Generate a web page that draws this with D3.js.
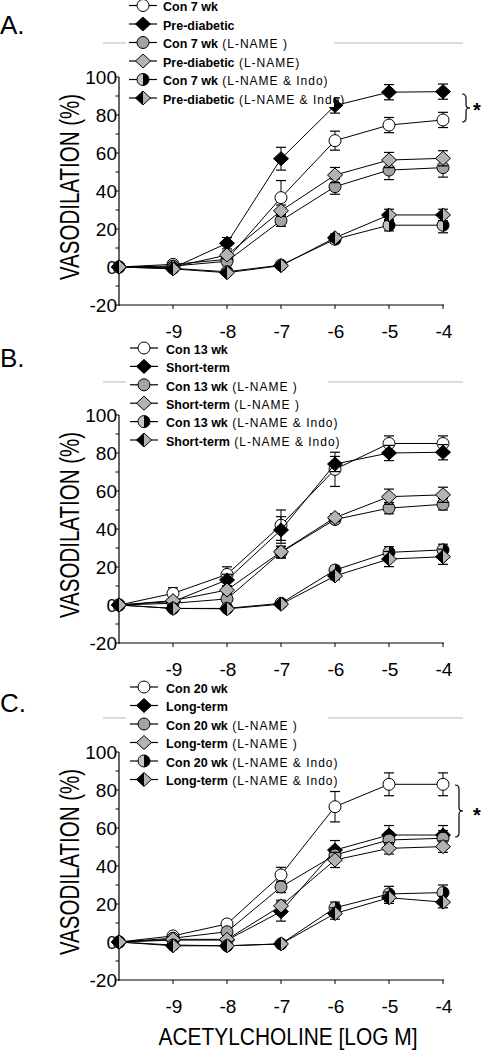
<!DOCTYPE html>
<html>
<head>
<meta charset="utf-8">
<script src="https://cdn.jsdelivr.net/npm/d3@7"></script>
<style>
  html, body { margin: 0; padding: 0; background: #fff; }
  svg { display: block; }
  text { font-family: Arial, "Liberation Sans", sans-serif; fill: #000; }
</style>
</head>
<body>
<svg id="chart" width="484" height="1050"></svg>
<script>
// ---------------- DATA ----------------
const doses = [-10, -9, -8, -7, -6, -5, -4];
const xTickValues = [-9, -8, -7, -6, -5, -4];
const yTickLabels = [-20, 0, 20, 40, 60, 80, 100];
const yMinorTicks = [-10, 10, 30, 50, 70, 90];
const xAxisTitle = "ACETYLCHOLINE [LOG M]";
const yAxisTitle = "VASODILATION (%)";

// Panel A
const aNames = ["Con 7 wk", "Pre-diabetic", "Con 7 wk", "Pre-diabetic", "Con 7 wk", "Pre-diabetic"];
const aSuffix = ["", "", " (L-NAME )", " (L-NAME)", " (L-NAME & Indo)", " (L-NAME & Indo)"];
const aCon      = [0, 1.4, 4, 36.5, 66.5, 74.7, 77.4];
const aConErr   = [0, 1, 2, 9, 5, 4, 4];
const aDia      = [0, -0.5, 12.5, 57, 85, 92, 92.3];
const aDiaErr   = [0, 1, 3, 6, 4, 4, 4];
const aConL     = [0, 0.5, 3, 24.4, 42.3, 51, 52.3];
const aConLErr  = [0, 1, 2, 3, 4, 5, 5];
const aDiaL     = [0, 0, 6.3, 29.6, 48.4, 56.3, 57.2];
const aDiaLErr  = [0, 1, 2, 3, 4, 4, 4];
const aConLI    = [0, -0.7, -2.5, 1, 14.6, 22, 22];
const aConLIErr = [0, 1, 1, 1, 2, 3, 4];
const aDiaLI    = [0, -1, -3, 0.7, 15.4, 27.4, 27.4];
const aDiaLIErr = [0, 1, 1, 1, 2, 3, 3];

// Panel B
const bNames = ["Con 13 wk", "Short-term", "Con 13 wk", "Short-term", "Con 13 wk", "Short-term"];
const bSuffix = ["", "", " (L-NAME )", " (L-NAME )", " (L-NAME & Indo)", " (L-NAME & Indo)"];
const bCon      = [0, 6.1, 16.1, 42, 71.4, 85, 85];
const bConErr   = [0, 3, 4, 8, 9, 4, 4];
const bShort    = [0, 1.8, 13.2, 39.5, 74.2, 80, 80.4];
const bShortErr = [0, 2, 3, 7, 4, 4, 4];
const bConL     = [0, 0.9, 3.2, 27.7, 45, 51, 53];
const bConLErr  = [0, 1, 2, 3, 2, 3, 3];
const bShortL   = [0, 2.3, 7.9, 28, 46, 57, 58];
const bShortLErr= [0, 1, 2, 3, 2, 4, 4];
const bConLI    = [0, -1.8, -1.8, 0.9, 18.4, 27.7, 29];
const bConLIErr = [0, 1, 1, 1, 2, 3, 3];
const bShortLI  = [0, -1.8, -2, 0.4, 15.3, 24.2, 25.4];
const bShortLIErr=[0, 1, 1, 1, 2, 4, 4];

// Panel C
const cNames = ["Con 20 wk", "Long-term", "Con 20 wk", "Long-term", "Con 20 wk", "Long-term"];
const cSuffix = ["", "", " (L-NAME )", " (L-NAME )", " (L-NAME & Indo)", " (L-NAME & Indo)"];
const cCon      = [0, 3.2, 9.5, 35.3, 71.2, 83, 83];
const cConErr   = [0, 1, 2, 4, 8, 6, 6];
const cLong     = [0, 1, 1, 16, 48.4, 56.3, 56.3];
const cLongErr  = [0, 1, 1, 5, 5, 5, 5];
const cConL     = [0, 2, 5.4, 29, 45.8, 53.7, 54.6];
const cConLErr  = [0, 1, 2, 3, 3, 4, 4];
const cLongL    = [0, 1.4, 1.4, 19, 43.2, 49.3, 50.2];
const cLongLErr = [0, 1, 1, 3, 4, 3, 3];
const cConLI    = [0, -1.6, -2, -1, 18, 25.3, 26];
const cConLIErr = [0, 1, 1, 1, 3, 4, 4];
const cLongLI   = [0, -2, -2, -1, 15, 23.3, 21];
const cLongLIErr= [0, 1, 1, 1, 3, 3, 3];

// ---------------- LAYOUT ----------------
const markerTypes = ["circleWhite", "diamondBlack", "circleGray", "diamondGray", "circleHalf", "diamondHalf"];

const panels = [
  { label: "A.", labelY: 34, top: 77, legendY: 5.5, legendStep: 18.5, markX: 143, textX: 163, grayY: 43, bgRight: 334,
    names: aNames, suffix: aSuffix,
    values: [aCon, aDia, aConL, aDiaL, aConLI, aDiaLI],
    errors: [aConErr, aDiaErr, aConLErr, aDiaLErr, aConLIErr, aDiaLIErr],
    bracket: { x: 462, y1: 94, y2: 122, starY: 117 } },
  { label: "B.", labelY: 367, top: 415, legendY: 348, legendStep: 18.4, markX: 144, textX: 166, grayY: 382, bgRight: 328,
    names: bNames, suffix: bSuffix,
    values: [bCon, bShort, bConL, bShortL, bConLI, bShortLI],
    errors: [bConErr, bShortErr, bConLErr, bShortLErr, bConLIErr, bShortLIErr],
    bracket: null },
  { label: "C.", labelY: 712, top: 752, legendY: 687, legendStep: 18.5, markX: 144, textX: 166, grayY: 718, bgRight: 328,
    names: cNames, suffix: cSuffix,
    values: [cCon, cLong, cConL, cLongL, cConLI, cLongLI],
    errors: [cConErr, cLongErr, cConLErr, cLongLErr, cConLIErr, cLongLIErr],
    bracket: { x: 455, y1: 785, y2: 837, starY: 822 } }
];

const svg = d3.select("#chart");
const x = d3.scaleLinear().domain([-10, -4]).range([119, 443]);
const plotH = 228;

const GRAY_C = "#a3a3a3", GRAY_D = "#b3b3b3", GRAY_HALF = "#c4c4c4";

function drawMarker(g, type, cx, cy) {
  const r = 6, w = 7.5, h = 7;
  const diamond = `M${cx},${cy - h}L${cx + w},${cy}L${cx},${cy + h}L${cx - w},${cy}Z`;
  if (type === "circleWhite" || type === "circleGray") {
    g.append("circle").attr("cx", cx).attr("cy", cy).attr("r", r)
      .attr("fill", type === "circleWhite" ? "#fff" : GRAY_C)
      .attr("stroke", "#000").attr("stroke-width", 1);
  } else if (type === "diamondBlack" || type === "diamondGray") {
    g.append("path").attr("d", diamond)
      .attr("fill", type === "diamondBlack" ? "#000" : GRAY_D)
      .attr("stroke", "#000").attr("stroke-width", 1);
  } else if (type === "circleHalf") {
    g.append("circle").attr("cx", cx).attr("cy", cy).attr("r", r).attr("fill", GRAY_HALF);
    g.append("path").attr("d", `M${cx},${cy - r}A${r},${r} 0 0 1 ${cx},${cy + r}Z`).attr("fill", "#000");
    g.append("circle").attr("cx", cx).attr("cy", cy).attr("r", r).attr("fill", "none")
      .attr("stroke", "#000").attr("stroke-width", 1);
  } else if (type === "diamondHalf") {
    g.append("path").attr("d", `M${cx},${cy - h}L${cx + w},${cy}L${cx},${cy + h}Z`).attr("fill", GRAY_D);
    g.append("path").attr("d", `M${cx},${cy - h}L${cx - w},${cy}L${cx},${cy + h}Z`).attr("fill", "#000");
    g.append("path").attr("d", diamond).attr("fill", "none").attr("stroke", "#000").attr("stroke-width", 1);
  }
}

panels.forEach(p => {
  const y = d3.scaleLinear().domain([-20, 100]).range([p.top + plotH, p.top]);
  const g = svg.append("g");

  // panel label
  g.append("text").attr("x", 0).attr("y", p.labelY).attr("font-size", 26).text(p.label);

  // light gray rule behind legend
  g.append("line").attr("x1", 103).attr("x2", 463).attr("y1", p.grayY).attr("y2", p.grayY)
    .attr("stroke", "#d0d0d0").attr("stroke-width", 1.5);

  // axes
  const yAxisG = g.append("g");
  yAxisG.append("line").attr("x1", x(-10)).attr("x2", x(-10)).attr("y1", y(100)).attr("y2", y(-20) + 1)
    .attr("stroke", "#000").attr("stroke-width", 1.2);
  yAxisG.selectAll("line.tick").data(yTickLabels.concat(yMinorTicks)).enter().append("line")
    .attr("x1", x(-10) - 3.5).attr("x2", x(-10)).attr("y1", d => y(d)).attr("y2", d => y(d))
    .attr("stroke", "#000").attr("stroke-width", 1);
  yAxisG.selectAll("text").data(yTickLabels).enter().append("text")
    .attr("x", x(-10) - 2).attr("y", d => y(d)).attr("dy", "0.36em")
    .attr("text-anchor", "end").attr("font-size", 19).text(d => d);

  const xAxisG = g.append("g");
  xAxisG.append("line").attr("x1", x(-10)).attr("x2", x(-4) + 1).attr("y1", y(-20)).attr("y2", y(-20))
    .attr("stroke", "#000").attr("stroke-width", 1.2);
  xAxisG.selectAll("line.tick").data(xTickValues).enter().append("line")
    .attr("x1", d => x(d)).attr("x2", d => x(d)).attr("y1", y(-20)).attr("y2", y(-20) + 4)
    .attr("stroke", "#000").attr("stroke-width", 1);
  xAxisG.selectAll("text").data(xTickValues).enter().append("text")
    .attr("x", d => x(d) + 1).attr("y", y(-20) + 33)
    .attr("text-anchor", "middle").attr("font-size", 19).text(d => d);

  // y title
  g.append("text")
    .attr("transform", `translate(79,${p.top + 110}) rotate(-90) scale(0.76,1)`)
    .attr("text-anchor", "middle").attr("font-size", 27).text(yAxisTitle);

  // series
  const line = d3.line().x((d, i) => x(doses[i])).y(d => y(d));
  p.values.forEach((vals, si) => {
    const sg = g.append("g");
    sg.append("path").attr("d", line(vals)).attr("fill", "none")
      .attr("stroke", "#000").attr("stroke-width", 1);
    vals.forEach((v, i) => {
      const e = p.errors[si][i];
      if (e > 0) {
        const cx = x(doses[i]);
        sg.append("line").attr("x1", cx).attr("x2", cx).attr("y1", y(v - e)).attr("y2", y(v + e))
          .attr("stroke", "#000").attr("stroke-width", 1);
        [v - e, v + e].forEach(ev => {
          sg.append("line").attr("x1", cx - 5).attr("x2", cx + 5).attr("y1", y(ev)).attr("y2", y(ev))
            .attr("stroke", "#000").attr("stroke-width", 1.2);
        });
      }
    });
    vals.forEach((v, i) => drawMarker(sg, markerTypes[si], x(doses[i]), y(v)));
  });

  // legend
  const lg = g.append("g");
  const lastY = p.legendY + 5 * p.legendStep;
  lg.append("rect").attr("x", 126).attr("y", p.legendY - 9).attr("width", p.bgRight - 126)
    .attr("height", lastY - p.legendY + 18).attr("fill", "#fff");
  p.names.forEach((nm, i) => {
    const ly = p.legendY + i * p.legendStep;
    lg.append("line").attr("x1", p.markX - 14).attr("x2", p.markX + 14).attr("y1", ly).attr("y2", ly)
      .attr("stroke", "#000").attr("stroke-width", 1.2);
    drawMarker(lg, markerTypes[i], p.markX, ly);
    const t = lg.append("text").attr("x", p.textX).attr("y", ly).attr("dy", "0.36em");
    t.append("tspan").attr("font-size", 12.5).attr("font-weight", "bold").text(nm);
    if (p.suffix[i]) t.append("tspan").attr("font-size", 12).attr("letter-spacing", 1).text(p.suffix[i]);
  });

  // significance bracket
  if (p.bracket) {
    const b = p.bracket, ym = (b.y1 + b.y2) / 2, xm = b.x + 4;
    g.append("path")
      .attr("d", `M${b.x},${b.y1}Q${xm},${b.y1} ${xm},${b.y1 + 4}L${xm},${ym - 3}Q${xm},${ym} ${b.x + 8},${ym}` +
                 `Q${xm},${ym} ${xm},${ym + 3}L${xm},${b.y2 - 4}Q${xm},${b.y2} ${b.x},${b.y2}`)
      .attr("fill", "none").attr("stroke", "#000").attr("stroke-width", 1.2);
    g.append("text").attr("x", 477).attr("y", b.starY).attr("text-anchor", "middle")
      .attr("font-size", 20).attr("font-weight", "bold").text("*");
  }
});

// x-axis title
svg.append("text").attr("transform", "translate(288,1045) scale(0.89,1)")
  .attr("text-anchor", "middle").attr("font-size", 23.5).text(xAxisTitle);
</script>
</body>
</html>
